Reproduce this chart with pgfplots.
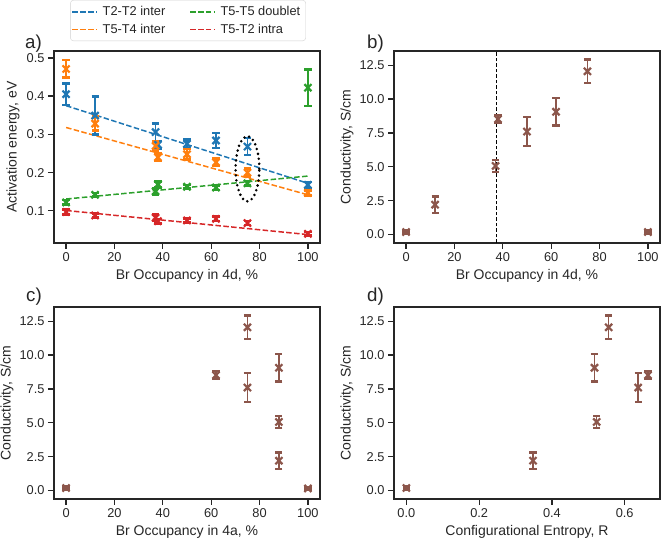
\documentclass[border=0pt]{standalone}
\usepackage{pgfplots}
\pgfplotsset{compat=1.18}
\usepackage{pgfplotstable}
\usepackage{fontspec}
\setmainfont{Liberation Sans}
\definecolor{tBlue}{HTML}{1F77B4}
\definecolor{tOrange}{HTML}{FF7F0E}
\definecolor{tGreen}{HTML}{2CA02C}
\definecolor{tRed}{HTML}{D62728}
\definecolor{tBrown}{HTML}{8C564B}
\definecolor{fcol}{HTML}{262626}
\newcommand{\legline}[1]{\pgfsetstrokecolor{#1}\pgfsetlinewidth{1.8pt}%
  \pgfsetdash{{5.5pt}{2.4pt}}{0pt}\pgfpathmoveto{\pgfpointorigin}%
  \pgfpathlineto{\pgfpoint{25pt}{0pt}}\pgfusepath{stroke}}

\pgfplotstableread{
x y e
0 0.405 0.028
12 0.349 0.050
37 0.306 0.023
38 0.273 0.010
50 0.275 0.011
62 0.284 0.020
75 0.268 0.022
100 0.168 0.008
}\tTT
\pgfplotstableread{
x y e
0 0.471 0.023
12 0.328 0.018
37 0.270 0.012
38 0.240 0.010
50 0.248 0.014
62 0.227 0.010
75 0.200 0.010
100 0.147 0.007
}\tFF
\pgfplotstableread{
x y e
0 0.122 0.006
12 0.142 0.005
37 0.151 0.008
38 0.169 0.008
50 0.163 0.005
62 0.161 0.006
75 0.172 0.006
100 0.422 0.048
}\tDD
\pgfplotstableread{
x y e
0 0.097 0.006
12 0.088 0.005
37 0.082 0.008
38 0.073 0.006
50 0.075 0.005
62 0.079 0.006
75 0.068 0.005
100 0.040 0.005
}\tIN
\pgfplotstableread{
x y e
0 0.18 0.12
12 2.2 0.6
37 5.06 0.45
38 8.52 0.3
50 7.6 1.07
62 9.06 1.02
75 12.05 0.85
100 0.18 0.1
}\cfd
\pgfplotstableread{
x y e
0 0.18 0.12
62 8.52 0.3
75 12.05 0.85
75 7.6 1.07
88 9.06 1.02
88 5.06 0.45
88 2.2 0.6
100 0.15 0.1
}\cfa
\pgfplotstableread{
x y e
0 0.18 0.12
0.348 2.2 0.6
0.517 9.06 1.02
0.523 5.06 0.45
0.556 12.05 0.85
0.637 7.6 1.07
0.664 8.52 0.3
}\cfe

\pgfplotsset{
  myaxis/.style={
    scale only axis, width=266pt, height=192pt, anchor=south west,
    axis line style={fcol, line width=1.25pt},
    tick align=outside, tick pos=left, major tick length=6pt,
    every tick/.style={fcol, line width=1.25pt},
    tick label style={font=\fontsize{12.8}{14}\selectfont, text=fcol},
    label style={font=\fontsize{14}{16}\selectfont, text=fcol},
    /pgf/number format/assume math mode=true,
    scaled ticks=false,
    xlabel style={at={(axis description cs:0.5,-0.172)}, anchor=center},
  },
  condaxis/.style={
    ymin=-0.63, ymax=13.55, ytick={0,2.5,...,12.5},
    yticklabel style={/pgf/number format/.cd, fixed, fixed zerofill, precision=1},
    ylabel={Conductivity, S/cm},
    ylabel style={at={(axis description cs:-0.177,0.5)}, anchor=center},
  },
  ebar/.style={only marks, mark=x, color=#1, mark size=5pt,
    mark options={line width=2.2pt, solid},
    error bars/.cd, y dir=both, y explicit,
    error bar style={line width=1.6pt, solid},
    error mark options={rotate=90, line width=2.6pt, mark size=3.6pt},
    /pgfplots/.cd},
}
\tikzset{fitdash/.style={line width=1.5pt, dash pattern=on 5.5pt off 2.4pt}}

\begin{document}
\begin{tikzpicture}
\useasboundingbox (0,0) rectangle (662pt,541pt);
% panel a
\begin{axis}[myaxis, at={(54pt,298pt)},
  xmin=-5, xmax=105, ymin=0.016, ymax=0.518,
  xtick={0,20,...,100}, ytick={0.1,0.2,0.3,0.4,0.5},
  yticklabel style={/pgf/number format/.cd, fixed, precision=1},
  xlabel={Br Occupancy in 4d, \%}, ylabel={Activation energy, eV},
  ylabel style={at={(axis description cs:-0.154,0.5)}, anchor=center},
  legend columns=2, legend cell align=left,
  legend style={at={(0.504,1.052)}, anchor=south, draw=black!18, rounded corners=3pt,
    font=\fontsize{12.8}{15}\selectfont,
    inner xsep=1pt, inner ysep=4pt, row sep=3pt,
    nodes={inner xsep=4.5pt, inner ysep=2pt, text=fcol},
    /tikz/every even column/.append style={column sep=19.4pt}},
]
\addplot[draw=tBlue, fitdash, legend image code/.code={\legline{tBlue}}] coordinates {(0,0.375) (100,0.172)};
\addlegendentry{T2-T2 inter}
\addplot[draw=tGreen, fitdash, legend image code/.code={\legline{tGreen}}] coordinates {(0,0.131) (100,0.191)};
\addlegendentry{T5-T5 doublet}
\addplot[draw=tOrange, fitdash, legend image code/.code={\legline{tOrange}}] coordinates {(0,0.318) (100,0.142)};
\addlegendentry{T5-T4 inter}
\addplot[draw=tRed, fitdash, legend image code/.code={\legline{tRed}}] coordinates {(0,0.101) (100,0.038)};
\addlegendentry{T5-T2 intra}
\addplot[forget plot, ebar=tBlue] table[x=x,y=y,y error=e] {\tTT};
\addplot[forget plot, ebar=tOrange] table[x=x,y=y,y error=e] {\tFF};
\addplot[forget plot, ebar=tGreen] table[x=x,y=y,y error=e] {\tDD};
\addplot[forget plot, ebar=tRed] table[x=x,y=y,y error=e] {\tIN};
\draw[black, line width=2.8pt, line cap=round, dash pattern=on 0pt off 5pt]
  (axis cs:75,0.21) ellipse [x radius=4.9, y radius=0.085];
\end{axis}
% panel b
\begin{axis}[myaxis, condaxis, at={(394pt,298pt)},
  xmin=-5, xmax=105, xtick={0,20,...,100},
  xlabel={Br Occupancy in 4d, \%},
]
\addplot[black, line width=1pt, dash pattern=on 3.5pt off 2pt] coordinates {(37.2,-0.63) (37.2,13.55)};
\addplot[ebar=tBrown] table[x=x,y=y,y error=e] {\cfd};
\end{axis}
% panel c
\begin{axis}[myaxis, condaxis, at={(54pt,42pt)},
  xmin=-5, xmax=105, xtick={0,20,...,100},
  xlabel={Br Occupancy in 4a, \%},
]
\addplot[ebar=tBrown] table[x=x,y=y,y error=e] {\cfa};
\end{axis}
% panel d
\begin{axis}[myaxis, condaxis, at={(394pt,42pt)},
  xmin=-0.034, xmax=0.697, xtick={0,0.2,0.4,0.6},
  xticklabel style={/pgf/number format/.cd, fixed, fixed zerofill, precision=1},
  xlabel={Configurational Entropy, R},
]
\addplot[ebar=tBrown] table[x=x,y=y,y error=e] {\cfe};
\end{axis}
\node[anchor=west, inner sep=0pt, font=\fontsize{18.7}{20}\selectfont, text=fcol] at (25pt,497pt) {a)};
\node[anchor=west, inner sep=0pt, font=\fontsize{18.7}{20}\selectfont, text=fcol] at (367pt,497pt) {b)};
\node[anchor=west, inner sep=0pt, font=\fontsize{18.7}{20}\selectfont, text=fcol] at (26pt,244pt) {c)};
\node[anchor=west, inner sep=0pt, font=\fontsize{18.7}{20}\selectfont, text=fcol] at (367pt,244pt) {d)};
\end{tikzpicture}
\end{document}
